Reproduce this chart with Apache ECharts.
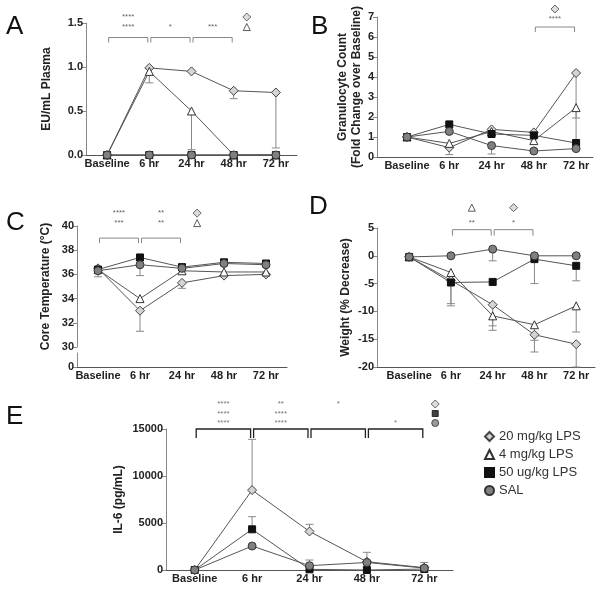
<!DOCTYPE html>
<html><head><meta charset="utf-8">
<script src="https://cdn.jsdelivr.net/npm/echarts@6/dist/echarts.min.js"></script>
<style>html,body{margin:0;padding:0;background:#fff}#c{width:604px;height:590px}</style>
</head><body><div id="c"></div>
<script>
const categories = ['Baseline', '6 hr', '24 hr', '48 hr', '72 hr'];
const seriesNames = ['20 mg/kg LPS', '4 mg/kg LPS', '50 ug/kg LPS', 'SAL'];

// Panel A: EU/mL Plasma
const eu20 = [0, 0.99, 0.95, 0.73, 0.71];
const eu4 = [0, 0.95, 0.50, 0, 0];
const eu50 = [0, 0, 0, 0, 0];
const euSal = [0, 0, 0, 0, 0];
const eu20Err = [null, null, null, 0.64, 0.08];
const eu4Err = [null, 0.82, 0.06, null, null];

// Panel B: Granulocyte fold change
const gr20 = [1, 0.47, 1.38, 1.23, 4.2];
const gr4 = [1, 0.68, 1.27, 0.82, 2.47];
const gr50 = [1, 1.63, 1.15, 1.08, 0.7];
const grSal = [1, 1.28, 0.57, 0.3, 0.42];
const gr20Err = [null, 0.12, null, null, 0.6];
const gr4Err = [null, null, null, null, 1.95];
const grSalErr = [null, null, 0.15, null, null];

// Panel C: Core temperature
const ct20 = [36.5, 33.0, 35.3, 35.9, 36.0];
const ct4 = [36.4, 34.0, 36.3, 36.2, 36.2];
const ct50 = [36.4, 37.4, 36.6, 37.0, 36.9];
const ctSal = [36.3, 36.8, 36.5, 36.9, 36.8];
const ct20Err = [35.8, 31.3, 34.85, null, null];
const ctSalErr = [null, 35.9, null, null, null];

// Panel D: Weight (% decrease)
const wt20 = [-0.2, -4.4, -8.8, -14.2, -15.9];
const wt4 = [-0.2, -3.0, -10.8, -12.4, -9.0];
const wt50 = [-0.2, -4.8, -4.7, -0.6, -1.8];
const wtSal = [-0.2, 0, 1.2, 0, 0];
const wt20Err = [null, -8.6, -13.4, -17.3, -20];
const wt4Err = [null, null, -12.6, -15.2, -13.7];
const wt50Err = [null, -9.0, null, -5.0, -4.5];
const wtSalErr = [null, null, -0.9, null, null];

// Panel E: IL-6 (pg/mL)
const il20 = [0, 8500, 4100, 880, 250];
const il50 = [0, 4330, 70, 0, 100];
const ilSal = [0, 2550, 460, 800, 200];
const il20Err = [null, 13900, 4860, 1880, 800];
const il50Err = [null, 5670, null, null, null];
const ilSalErr = [null, null, 1060, null, null];

// Significance annotations
const sigA = {level: 1.335, brackets: [{from: 0, to: 1, rows: ['****', '****']}, {from: 1, to: 2, rows: ['*']}, {from: 2, to: 3, rows: ['***']}],
  marks: [{x: 3.31, row: 1, s: 0}, {x: 3.31, row: 0, s: 1}]};
const sigB = {level: 6.5, brackets: [{from: 3, to: 4, rows: ['****']}], marks: [{x: 3.5, row: 1, s: 0}]};
const sigC = {level: 39.0, brackets: [{from: 0, to: 1, rows: ['****', '***']}, {from: 1, to: 2, rows: ['**', '**']}],
  marks: [{x: 2.36, row: 1, s: 0}, {x: 2.36, row: 0, s: 1}]};
const sigD = {level: 4.7, brackets: [{from: 1, to: 2, rows: ['**']}, {from: 2, to: 3, rows: ['*']}],
  marks: [{x: 1.5, row: 1, s: 1}, {x: 2.5, row: 1, s: 0}]};
const sigE = {level: 15000, brackets: [{from: 0, to: 1, rows: ['****', '****', '****']}, {from: 1, to: 2, rows: ['**', '****', '****']},
  {from: 2, to: 3, rows: ['*', '', '']}, {from: 3, to: 4, rows: ['*']}],
  marks: [{x: 4.19, row: 2, s: 0}, {x: 4.19, row: 1, s: 2}, {x: 4.19, row: 0, s: 3}]};

const FONT = "'Liberation Sans', Arial, sans-serif";
const STYLE = [
  {symbol: 'diamond', size: 9, fill: '#d4d4d4', border: '#444'},
  {symbol: 'triangle', size: 8, fill: '#ffffff', border: '#333'},
  {symbol: 'rect', size: 7, fill: '#111111', border: '#111'},
  {symbol: 'circle', size: 8, fill: '#808080', border: '#333'}
];

const panels = [
  {grid: 0, data: [eu20, eu4, eu50, euSal], err: [eu20Err, eu4Err, null, null], sig: sigA, st: {low: 10.5, gap: 10, drop: 5, color: '#888', text: '#666', lw: 1}},
  {grid: 1, data: [gr20, gr4, gr50, grSal], err: [gr20Err, gr4Err, null, grSalErr], sig: sigB, st: {low: 8, gap: 10, drop: 5, color: '#888', text: '#666', lw: 1}},
  {grid: 2, data: [ct20, ct4, ct50, ctSal], err: [ct20Err, null, null, ctSalErr], sig: sigC, st: {low: 15, gap: 10, drop: 5, color: '#888', text: '#666', lw: 1}},
  {grid: 4, data: [wt20, wt4, wt50, wtSal], err: [wt20Err, wt4Err, wt50Err, wtSalErr], sig: sigD, st: {low: 7, gap: 15, drop: 6, color: '#888', text: '#666', lw: 1}},
  {grid: 5, data: [il20, null, il50, ilSal], err: [il20Err, null, il50Err, ilSalErr], sig: sigE, st: {low: 6, gap: 9.5, drop: 9, color: '#222', text: '#777', lw: 1.3}}
];

const grids = [
  {left: 86, top: 23, width: 211, height: 132},
  {left: 377, top: 17, width: 216, height: 140},
  {left: 77, top: 226, width: 210, height: 121},
  {left: 77, top: 353, width: 210, height: 14},
  {left: 377, top: 228, width: 218, height: 139},
  {left: 166, top: 429, width: 287, height: 141}
];

function xAx(grid, min, max, show) {
  return {type: 'value', gridIndex: grid, min: min, max: max, show: show,
    axisLine: {show: true, onZero: false, lineStyle: {color: '#555', width: 1}},
    axisTick: {show: false}, splitLine: {show: false},
    axisLabel: {customValues: [0, 1, 2, 3, 4], formatter: v => categories[Math.round(v)] || '',
      fontWeight: 'bold', fontSize: 11, color: '#222', margin: 3, fontFamily: FONT}};
}
function yAx(grid, min, max, interval, name, gap, fmt, extra) {
  const a = {type: 'value', gridIndex: grid, min: min, max: max, interval: interval,
    name: name, nameLocation: 'middle', nameGap: gap, nameRotate: 90,
    nameTextStyle: {fontWeight: 'bold', fontSize: 12, color: '#222', fontFamily: FONT, lineHeight: 14},
    axisLine: {show: true, onZero: false, lineStyle: {color: '#888', width: 1}},
    axisTick: {show: true, length: 4, lineStyle: {color: '#888'}}, splitLine: {show: false},
    axisLabel: {formatter: fmt, fontWeight: 'bold', fontSize: 11, color: '#222', margin: 3, fontFamily: FONT}};
  if (extra) { Object.assign(a.axisLabel, extra.label || {}); Object.assign(a.axisTick, extra.tick || {}); }
  return a;
}

const xAxis = [
  xAx(0, -0.5, 4.5, true),
  xAx(1, -0.71, 4.4, true),
  xAx(2, -0.5, 4.5, false),
  xAx(3, -0.5, 4.5, true),
  xAx(4, -0.77, 4.45, true),
  xAx(5, -0.5, 4.5, true)
];
const yAxis = [
  yAx(0, 0, 1.5, 0.5, 'EU/mL Plasma', 32, v => v.toFixed(1)),
  yAx(1, 0, 7, 1, 'Granulocyte Count\n(Fold Change over Baseline)', 4, v => String(v)),
  yAx(2, 30, 40, 2, 'Core Temperature (°C)', 24, v => String(v)),
  yAx(3, 0, 1, 1, '', 0, v => String(v), {label: {customValues: [0]}, tick: {customValues: [0]}}),
  yAx(4, -20, 5, 5, 'Weight (% Decrease)', 24, v => String(v)),
  yAx(5, 0, 15000, 5000, 'IL-6 (pg/mL)', 40, v => String(v))
];

const series = [];
panels.forEach(p => {
  p.data.forEach((vals, si) => {
    if (!vals) return;
    const st = STYLE[si];
    const errs = p.err[si];
    if (errs) {
      const ed = [];
      errs.forEach((e, i) => { if (e !== null) ed.push([i, vals[i], e]); });
      series.push({type: 'custom', coordinateSystem: 'cartesian2d', xAxisIndex: p.grid, yAxisIndex: p.grid,
        clip: false, z: 1, silent: true, data: ed,
        renderItem: (params, api) => {
          const x = api.value(0), v = api.value(1), e = api.value(2);
          const a = api.coord([x, v]), b = api.coord([x, e]);
          return {type: 'group', children: [
            {type: 'line', shape: {x1: a[0], y1: a[1], x2: b[0], y2: b[1]}, style: {stroke: '#888', lineWidth: 1}},
            {type: 'line', shape: {x1: b[0] - 4, y1: b[1], x2: b[0] + 4, y2: b[1]}, style: {stroke: '#888', lineWidth: 1}}
          ]};
        }});
    }
    series.push({type: 'line', name: seriesNames[si], xAxisIndex: p.grid, yAxisIndex: p.grid,
      data: vals.map((v, i) => [i, v]), symbol: st.symbol, symbolSize: st.size, showSymbol: true,
      itemStyle: {color: st.fill, borderColor: st.border, borderWidth: 1},
      lineStyle: {color: '#555', width: 1}, z: 3, clip: false, animation: false});
  });
  const sig = p.sig, ss = p.st;
  series.push({type: 'custom', coordinateSystem: 'cartesian2d', xAxisIndex: p.grid, yAxisIndex: p.grid,
    clip: false, z: 4, silent: true,
    data: sig.brackets.map(b => [b.from, sig.level, b.to]),
    renderItem: (params, api) => {
      const b = sig.brackets[params.dataIndex];
      const p1 = api.coord([api.value(0), api.value(1)]), p2 = api.coord([api.value(2), api.value(1)]);
      const x1 = p1[0] + 1.5, x2 = p2[0] - 1.5, y = p1[1];
      const children = [{type: 'polyline', shape: {points: [[x1, y + ss.drop], [x1, y], [x2, y], [x2, y + ss.drop]]},
        style: {stroke: ss.color, lineWidth: ss.lw, fill: null}}];
      const n = b.rows.length;
      b.rows.forEach((t, k) => {
        const fromBottom = n - 1 - k;
        children.push({type: 'text', x: (x1 + x2) / 2, y: y - ss.low - fromBottom * ss.gap,
          style: {text: t, fontSize: 8, fill: ss.text, align: 'center', verticalAlign: 'middle', fontFamily: FONT}});
      });
      return {type: 'group', children: children};
    }});
  series.push({type: 'scatter', xAxisIndex: p.grid, yAxisIndex: p.grid, clip: false, z: 4, silent: true,
    data: sig.marks.map(m => {
      const st = STYLE[m.s];
      return {value: [m.x, sig.level], symbol: st.symbol, symbolSize: st.size - 1,
        symbolOffset: [0, -(ss.low + m.row * ss.gap)],
        itemStyle: {color: st.fill, borderColor: st.border, borderWidth: 1}};
    })});
});

const letter = (t, left, top) => ({text: t, left: left, top: top, padding: 0,
  textStyle: {fontSize: 26, fontWeight: 'normal', color: '#111', fontFamily: FONT}});

const option = {
  animation: false,
  backgroundColor: '#fff',
  title: [letter('A', 6, 14), letter('B', 311, 14), letter('C', 6, 210), letter('D', 309, 194), letter('E', 6, 404)],
  legend: {orient: 'vertical', left: 484, top: 430, itemWidth: 9, itemHeight: 9, itemGap: 5, padding: 0,
    data: seriesNames.map((n, i) => ({name: n, icon: STYLE[i].symbol})),
    textStyle: {fontSize: 13, color: '#333', fontFamily: FONT}},
  grid: grids,
  xAxis: xAxis,
  yAxis: yAxis,
  series: series
};
const chart = echarts.init(document.getElementById('c'), null, {renderer: 'canvas'});
chart.setOption(option);
</script></body></html>
